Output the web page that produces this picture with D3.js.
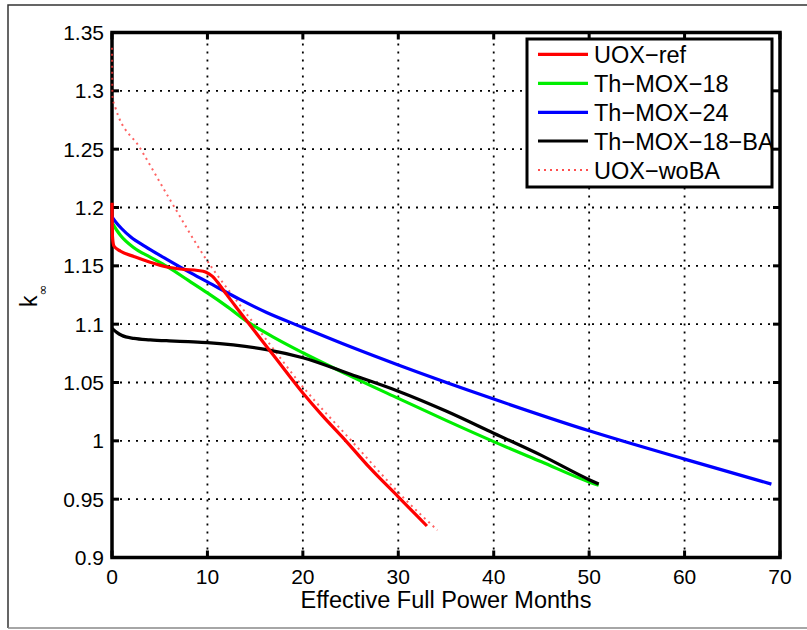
<!DOCTYPE html>
<html><head><meta charset="utf-8">
<script src="https://cdn.jsdelivr.net/npm/d3@7"></script>
<style>
html,body{margin:0;padding:0;background:#fff;}
svg{display:block;font-family:"Liberation Sans",Arial,Helvetica,sans-serif;}
</style></head>
<body><svg id="c" width="807" height="630"></svg>
<script>
// ---- data ----
const seriesNames = ["UOX\u2212ref","Th\u2212MOX\u221218","Th\u2212MOX\u221224","Th\u2212MOX\u221218\u2212BA","UOX\u2212woBA"];
const uoxRefX = [0,0.05,0.2,0.9,2.3,4,5.75,7.5,9,9.8,10.5,11.2,12,13.4,15,16.9,20,22,24.5,27,30,33];
const uoxRefY = [1.204,1.175,1.167,1.1625,1.158,1.153,1.149,1.147,1.146,1.1447,1.1412,1.1345,1.1255,1.1105,1.0935,1.0735,1.041,1.022,1.0,0.977,0.952,0.927];
const thMox18X = [0,0.5,0.9,2.3,4,5.75,8,10,12,14.3,17,20,25,30,35,40,45,50,51];
const thMox18Y = [1.187,1.1805,1.176,1.1655,1.1575,1.1495,1.1375,1.1268,1.1155,1.1015,1.0885,1.0755,1.0555,1.0364,1.0175,0.9993,0.982,0.9648,0.962];
const thMox24X = [0,0.5,1,2,3.5,5.75,8,10,13.4,16.2,20,25,30,40,50,60,69.1];
const thMox24Y = [1.192,1.1865,1.182,1.1745,1.1665,1.1555,1.145,1.1362,1.1212,1.11,1.0972,1.0806,1.065,1.0358,1.0086,0.9843,0.9629];
const thMox18BAX = [0,0.5,1,2.3,4,6,8,10,12.7,16.2,20,25,30,35,40,45,50,51];
const thMox18BAY = [1.0964,1.093,1.0905,1.0878,1.0866,1.0857,1.085,1.0842,1.0822,1.0782,1.0712,1.057,1.0425,1.0255,1.0065,0.9875,0.9667,0.963];
const uoxWoBAX = [0,0.05,0.34,2.95,6.1,10,13.4,16.2,20,25.1,30.7,34.1];
const uoxWoBAY = [1.337,1.295,1.286,1.2508,1.2064,1.154,1.1164,1.0864,1.0463,1.0,0.95,0.9234];
const xTicks = [0,10,20,30,40,50,60,70];
const yTicks = [0.9,0.95,1,1.05,1.1,1.15,1.2,1.25,1.3,1.35];
const xLabel = "Effective Full Power Months";

const colors = ["#ff0000","#00ee00","#0000ff","#000000","#ff3b3b"];
const seriesX = [uoxRefX,thMox18X,thMox24X,thMox18BAX,uoxWoBAX];
const seriesY = [uoxRefY,thMox18Y,thMox24Y,thMox18BAY,uoxWoBAY];

const svg = d3.select("#c");
const L=112, R=780, T=32.5, B=557.5;
const x = d3.scaleLinear().domain([0,70]).range([L,R]);
const y = d3.scaleLinear().domain([0.9,1.35]).range([B,T]);

// outer frame
svg.append("path").attr("d",`M8,628 L8,5 L807,5`).attr("fill","none").attr("stroke","#333").attr("stroke-width",1.5);
svg.append("line").attr("x1",8).attr("x2",807).attr("y1",628).attr("y2",628).attr("stroke","#888").attr("stroke-width",1.5);

// grid
const g = svg.append("g");
xTicks.slice(1,-1).forEach(t=>{
  g.append("line").attr("x1",x(t)).attr("x2",x(t)).attr("y1",B).attr("y2",T)
   .attr("stroke","#000").attr("stroke-width",1.8).attr("stroke-dasharray","2,6");
});
yTicks.slice(1,-1).forEach(t=>{
  g.append("line").attr("x1",L).attr("x2",R).attr("y1",y(t)).attr("y2",y(t))
   .attr("stroke","#000").attr("stroke-width",1.8).attr("stroke-dasharray","2,6");
});

// axes (box with inner ticks)
const ax = svg.append("g");
ax.append("rect").attr("x",L).attr("y",T).attr("width",R-L).attr("height",B-T)
  .attr("fill","none").attr("stroke","#000").attr("stroke-width",3.5);
xTicks.forEach(t=>{
  ax.append("line").attr("x1",x(t)).attr("x2",x(t)).attr("y1",B).attr("y2",B-7).attr("stroke","#000").attr("stroke-width",3);
  ax.append("line").attr("x1",x(t)).attr("x2",x(t)).attr("y1",T).attr("y2",T+7).attr("stroke","#000").attr("stroke-width",3);
  ax.append("text").attr("x",x(t)).attr("y",584).attr("text-anchor","middle")
    .attr("font-size",21).attr("fill","#000").text(d3.format("")(t));
});
yTicks.forEach(t=>{
  ax.append("line").attr("x1",L).attr("x2",L+7).attr("y1",y(t)).attr("y2",y(t)).attr("stroke","#000").attr("stroke-width",3);
  ax.append("line").attr("x1",R).attr("x2",R-7).attr("y1",y(t)).attr("y2",y(t)).attr("stroke","#000").attr("stroke-width",3);
  ax.append("text").attr("x",104).attr("y",y(t)+7.5).attr("text-anchor","end")
    .attr("font-size",21).attr("fill","#000").text(String(+t.toFixed(2)));
});

// lines (drawn over the axis box, as in the reference)
const line = d3.line().x(d=>x(d[0])).y(d=>y(d[1])).curve(d3.curveMonotoneX);
[4,1,2,3,0].forEach(i=>{
  const xs = seriesX[i];
  const pts = xs.map((v,j)=>[v,seriesY[i][j]]);
  const p = svg.append("path").attr("d",line(pts)).attr("fill","none")
    .attr("stroke",colors[i]).attr("stroke-linejoin","round");
  if(i===4){ p.attr("stroke-width",2).attr("stroke-dasharray","2,4").attr("opacity",0.8); }
  else { p.attr("stroke-width",3.2); }
});

svg.append("text").attr("x",(L+R)/2).attr("y",608).attr("text-anchor","middle")
  .attr("font-size",23.5).attr("fill","#000").text(xLabel);
const yl = svg.append("text").attr("transform","translate(37,307) rotate(-90)")
  .attr("font-size",23).attr("fill","#000");
yl.append("tspan").text("k");
yl.append("tspan").attr("dy",10).attr("font-size",13).attr("font-family","DejaVu Sans").text("\u221e");

// legend
const lg = svg.append("g");
const rowY = [54.3,83.3,112.3,141,170];
lg.append("rect").attr("x",527).attr("y",39).attr("width",245).attr("height",148)
  .attr("fill","#fff").attr("stroke","none");
seriesNames.forEach((n,i)=>{
  const l = lg.append("line").attr("x1",538).attr("x2",588).attr("y1",rowY[i]).attr("y2",rowY[i]).attr("stroke",colors[i]);
  if(i===4) l.attr("stroke-width",2).attr("stroke-dasharray","2,4").attr("opacity",0.9);
  else l.attr("stroke-width",3.2);
  lg.append("text").attr("x",594).attr("y",rowY[i]+8.5).attr("font-size",23.5).attr("fill","#000").text(n);
});
lg.append("rect").attr("x",527).attr("y",39).attr("width",245).attr("height",148)
  .attr("fill","none").attr("stroke","#000").attr("stroke-width",3);
</script></body></html>
